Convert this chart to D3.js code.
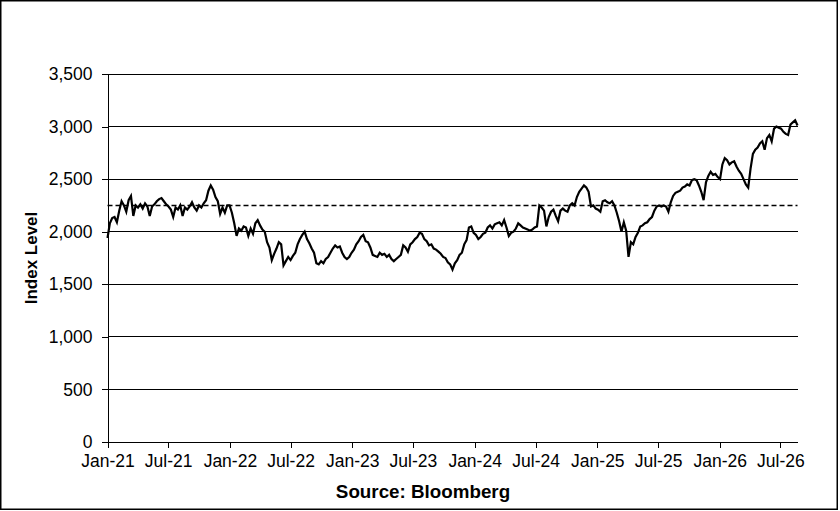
<!DOCTYPE html>
<html>
<head>
<meta charset="utf-8">
<script src="https://cdn.jsdelivr.net/npm/d3@7"></script>
<style>
  body { margin: 0; background: #fff; }
  svg { display: block; font-family: Arial, "Liberation Sans", sans-serif; }
</style>
</head>
<body>
<div id="chart"></div>
<script>
// weekly index closes, first point 1 Jan 2021
const startDate = "2021-01-01";
const indexLevel = [
  1940, 2080, 2130, 2140, 2090, 2200, 2290, 2250, 2190, 2300,
  2340, 2150, 2250, 2230, 2260, 2220, 2270, 2240, 2150, 2240,
  2260, 2290, 2310, 2320, 2290, 2260, 2240, 2210, 2140, 2230,
  2210, 2250, 2150, 2230, 2210, 2240, 2280, 2230, 2200, 2250,
  2230, 2270, 2300, 2390, 2440, 2400, 2330, 2290, 2170, 2230,
  2180, 2250, 2250, 2180, 2080, 1960, 2030, 2010, 2050,
  2040, 1960, 2030, 1980, 2080, 2110, 2060, 2020, 2000, 1900,
  1850, 1730, 1790, 1840, 1900, 1880, 1680, 1720, 1760, 1730,
  1770, 1800, 1880, 1930, 1970, 2000, 1930, 1890, 1840, 1800,
  1700, 1690, 1720, 1700, 1740, 1760, 1800, 1840, 1870, 1850,
  1860, 1800, 1760, 1740, 1760, 1800, 1830, 1880, 1910, 1950,
  1970, 1910, 1900, 1850, 1780, 1770, 1760, 1800,
  1780, 1790, 1760, 1780, 1740, 1720, 1740, 1760, 1780, 1870,
  1850, 1810, 1880, 1900, 1930, 1950, 1990, 1980, 1930, 1910,
  1870, 1880, 1840, 1830, 1810, 1790, 1760, 1750, 1710, 1690,
  1640, 1700, 1730, 1780, 1800, 1880, 1920, 2040, 2050, 1990,
  1970, 1930, 1950, 1980, 1990, 2040, 2060, 2030, 2070, 2080,
  2090, 2060, 2110, 2040, 1960, 1990, 2000, 2030, 2080, 2060,
  2040, 2030, 2020, 2010, 2020, 2040, 2050, 2250, 2230, 2200,
  2050, 2140, 2190, 2210, 2150, 2100, 2200, 2220, 2200, 2190,
  2250, 2270, 2250, 2330, 2380, 2410, 2440, 2420, 2380, 2240,
  2250, 2220, 2210, 2190, 2290, 2300, 2280, 2270, 2290, 2250,
  2180, 2100, 2000, 2090, 2010, 1760, 1900, 1880, 1950, 1990,
  2050, 2060, 2080, 2090, 2120, 2140, 2200, 2240,
  2250, 2240, 2250, 2240, 2190, 2280, 2340, 2370, 2380, 2390,
  2420, 2430, 2450, 2440, 2490, 2500, 2490, 2440, 2380, 2300,
  2470, 2530, 2570, 2540, 2550, 2520, 2500, 2640, 2700, 2680,
  2640, 2660, 2670, 2620, 2580, 2550, 2500, 2450, 2420, 2600,
  2740, 2780, 2800, 2840, 2860, 2780, 2890, 2920, 2860, 2980,
  3000, 2990, 2980, 2950, 2930, 2920, 3020, 3040, 3060, 3010
];
const averageLevel = 2250;
const yTicks = [0, 500, 1000, 1500, 2000, 2500, 3000, 3500];
const xDomain = ["2021-01-01", "2026-08-21"];
const yLabel = "Index Level";
const sourceText = "Source: Bloomberg";

const W = 840, H = 511;
const margin = {top: 74, right: 42.5, bottom: 69, left: 107.5};
const width = W - margin.left - margin.right,
      height = H - margin.top - margin.bottom;

const parse = d3.timeParse("%Y-%m-%d");
const t0 = parse(startDate);
const series = indexLevel.map((v, i) => ({date: d3.timeDay.offset(t0, i * 7), value: v}));

const svg = d3.select("#chart").append("svg")
    .attr("width", W)
    .attr("height", H);

// outer frame
svg.append("rect")
    .attr("x", 0.75).attr("y", 0.75)
    .attr("width", 836.5).attr("height", 508.5)
    .attr("fill", "none")
    .attr("stroke", "#000")
    .attr("stroke-width", 1.5);

const g = svg.append("g")
    .attr("transform", "translate(" + margin.left + "," + margin.top + ")");

const x = d3.scaleTime()
    .domain(xDomain.map(parse))
    .range([0, width]);

const y = d3.scaleLinear()
    .domain([0, 3500])
    .range([height, 0]);

// gridlines
g.append("g")
    .selectAll("line")
    .data(yTicks.filter(d => d > 0))
    .join("line")
    .attr("x1", 0).attr("x2", width)
    .attr("y1", d => y(d)).attr("y2", d => y(d))
    .attr("stroke", "#000")
    .attr("stroke-width", 1)
    .attr("shape-rendering", "crispEdges");

// y axis
const yAxis = g.append("g")
    .call(d3.axisLeft(y).tickValues(yTicks).tickSize(6).tickPadding(9).tickFormat(d3.format(",")));
yAxis.selectAll("text")
    .style("font-size", "17.5px")
    .attr("fill", "#000");
yAxis.selectAll("line, path").attr("stroke", "#000").attr("shape-rendering", "crispEdges");

// x axis
const xAxis = g.append("g")
    .attr("transform", `translate(0,${height})`)
    .call(d3.axisBottom(x)
        .ticks(d3.timeMonth.every(6))
        .tickSize(6)
        .tickPadding(7)
        .tickFormat(d3.timeFormat("%b-%y"))
        .tickSizeOuter(0));
xAxis.selectAll("text")
    .style("font-size", "17.5px")
    .attr("fill", "#000");
xAxis.selectAll("line, path").attr("stroke", "#000").attr("shape-rendering", "crispEdges");

// average dashed line
g.append("line")
    .attr("x1", 0).attr("x2", width)
    .attr("y1", y(averageLevel)).attr("y2", y(averageLevel))
    .attr("stroke", "#000")
    .attr("stroke-width", 1.6)
    .attr("stroke-dasharray", "5,3");

// index line
const line = d3.line()
    .x(d => x(d.date))
    .y(d => y(d.value));

g.append("path")
    .datum(series)
    .attr("fill", "none")
    .attr("stroke", "#000")
    .attr("stroke-width", 2.2)
    .attr("stroke-linejoin", "miter")
    .attr("d", line);

// axis titles
svg.append("text")
    .attr("transform", `translate(37,${margin.top + height / 2}) rotate(-90)`)
    .attr("text-anchor", "middle")
    .style("font-size", "17px")
    .style("font-weight", "bold")
    .text(yLabel);

svg.append("text")
    .attr("x", 423)
    .attr("y", 498)
    .attr("text-anchor", "middle")
    .style("font-size", "18.8px")
    .style("font-weight", "bold")
    .text(sourceText);
</script>
</body>
</html>
